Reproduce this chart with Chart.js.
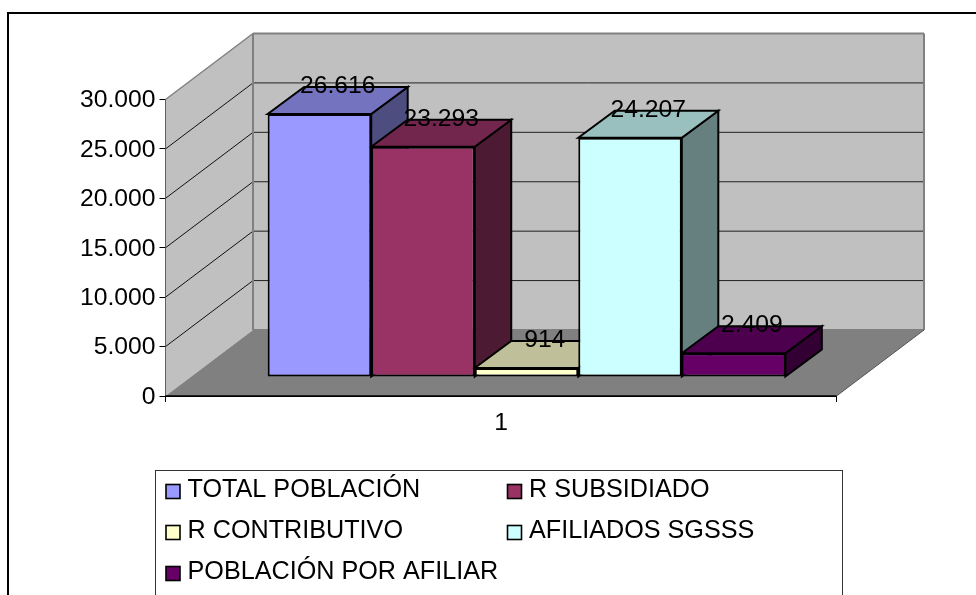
<!DOCTYPE html>
<html>
<head>
<meta charset="utf-8">
<style>html,body{margin:0;padding:0;background:#fff;overflow:hidden}canvas{display:block}</style>
<script src="https://cdn.jsdelivr.net/npm/chart.js@4"></script>
</head>
<body>
<canvas id="c" width="976" height="595"></canvas>
<script>
const categories = ['1'];
const seriesNames = ['TOTAL POBLACIÓN', 'R SUBSIDIADO', 'R CONTRIBUTIVO', 'AFILIADOS SGSSS', 'POBLACIÓN POR AFILIAR'];
const seriesValues = [26616, 23293, 914, 24207, 2409];
const frontColors = ['#9999FF', '#993366', '#FFFFCC', '#CCFFFF', '#660066'];
const topColors = ['#7373BF', '#73264D', '#BFBF99', '#99BFBF', '#4D004D'];
const sideColors = ['#4D4D80', '#4D1A33', '#808066', '#668080', '#330033'];
const yMax = 30000, yStep = 5000;

const FAMILY = '"Liberation Sans", Arial, sans-serif';
const FONT = '24.7px ' + FAMILY;
const LEG_FONT = '25.2px ' + FAMILY;
const WALL = { dx: 87.5, dy: -66 };   // back wall offset from the front plane
const BAR = { dx: 25.5, dy: -19 };    // bar front offset from the front plane
const DEPTH = { dx: 36.5, dy: -27 };  // bar depth

const fmt = v => String(v).replace(/\B(?=(\d{3})+(?!\d))/g, '.');

function poly(ctx, pts, fill, stroke, lw) {
  ctx.beginPath();
  pts.forEach((p, i) => i ? ctx.lineTo(p[0], p[1]) : ctx.moveTo(p[0], p[1]));
  ctx.closePath();
  if (fill) { ctx.fillStyle = fill; ctx.fill(); }
  if (stroke) { ctx.strokeStyle = stroke; ctx.lineWidth = lw; ctx.lineJoin = 'miter'; ctx.stroke(); }
}
function line(ctx, x1, y1, x2, y2, color, lw) {
  ctx.beginPath(); ctx.moveTo(x1, y1); ctx.lineTo(x2, y2);
  ctx.strokeStyle = color; ctx.lineWidth = lw; ctx.stroke();
}

const scene3d = {
  id: 'scene3d',
  beforeDatasetsDraw(chart) {
    const { ctx, chartArea: a, scales: { y } } = chart;
    const L = a.left, R = a.right, B = y.getPixelForValue(0), T = y.getPixelForValue(yMax);
    const dx = WALL.dx, dy = WALL.dy;
    ctx.save();
    // frame of the chart object
    ctx.beginPath(); ctx.moveTo(8, 600); ctx.lineTo(8, 13); ctx.lineTo(980, 13);
    ctx.strokeStyle = '#000'; ctx.lineWidth = 2; ctx.stroke();
    // left wall, back wall, floor
    poly(ctx, [[L, T], [L + dx, T + dy], [L + dx, B + dy], [L, B]], '#C0C0C0');
    poly(ctx, [[L + dx, T + dy], [R + dx, T + dy], [R + dx, B + dy], [L + dx, B + dy]], '#C0C0C0');
    poly(ctx, [[L, B], [R, B], [R + dx, B + dy], [L + dx, B + dy]], '#808080');
    // gridlines
    for (let v = yStep; v < yMax; v += yStep) {
      const p = y.getPixelForValue(v);
      line(ctx, L, p, L + dx, p + dy, '#111', 1);
      line(ctx, L + dx, p + dy, R + dx, p + dy, '#222', 1);
    }
    line(ctx, L + dx, T + dy, R + dx, T + dy, '#808080', 2);
    line(ctx, L + dx, T + dy, L + dx, B + dy, '#808080', 2);
    line(ctx, R + dx, T + dy, R + dx, B + dy, '#808080', 2);
    line(ctx, L + dx, B + dy, R + dx, B + dy, '#808080', 2);
    line(ctx, L, T, L + dx, T + dy, '#808080', 1.5);
    line(ctx, R, B, R + dx, B + dy, '#555', 1);
    line(ctx, L, B, R, B, '#000', 1.5);
    // bar side and top faces, left to right
    ctx.translate(BAR.dx, BAR.dy);
    chart.data.datasets.forEach((ds, i) => {
      const el = chart.getDatasetMeta(i).data[0];
      const x0 = el.x - el.width / 2, x1 = el.x + el.width / 2, top = el.y, base = el.base;
      const ex = DEPTH.dx, ey = DEPTH.dy;
      poly(ctx, [[x1, top], [x1 + ex, top + ey], [x1 + ex, base + ey], [x1, base]], sideColors[i], '#000', 2);
      poly(ctx, [[x0, top], [x0 + ex, top + ey], [x1 + ex, top + ey], [x1, top]], topColors[i], '#000', 2);
    });
  },
  afterDatasetsDraw(chart) {
    const { ctx } = chart;
    ctx.fillStyle = '#000';
    ctx.font = FONT; ctx.textAlign = 'center'; ctx.textBaseline = 'middle';
    chart.data.datasets.forEach((ds, i) => {
      const el = chart.getDatasetMeta(i).data[0];
      ctx.fillText(fmt(ds.data[0]), el.x + DEPTH.dx / 2, el.y + DEPTH.dy - 0.5);
    });
    ctx.restore();
    // legend box
    ctx.save();
    ctx.fillStyle = '#fff'; ctx.strokeStyle = '#333'; ctx.lineWidth = 1;
    ctx.fillRect(155.5, 470.5, 687, 130); ctx.strokeRect(155.5, 470.5, 687, 130);
    ctx.font = LEG_FONT; ctx.textAlign = 'left'; ctx.textBaseline = 'middle';
    chart.data.datasets.forEach((ds, i) => {
      const col = i % 2, row = Math.floor(i / 2);
      const sx = col ? 507.5 : 166, cy = 489 + row * 41;
      ctx.fillStyle = frontColors[i];
      ctx.fillRect(sx, cy - 4.5, 14, 14);
      ctx.strokeStyle = '#000'; ctx.lineWidth = 1.6;
      ctx.strokeRect(sx, cy - 4.5, 14, 14);
      ctx.fillStyle = '#000';
      ctx.fillText(ds.label, sx + 21.5, cy + 1);
    });
    ctx.restore();
  }
};

new Chart(document.getElementById('c').getContext('2d'), {
  type: 'bar',
  plugins: [scene3d],
  data: {
    labels: categories,
    datasets: seriesNames.map((n, i) => ({
      label: n,
      data: [seriesValues[i]],
      backgroundColor: frontColors[i],
      borderColor: '#000',
      borderWidth: 2,
      borderSkipped: false,
      clip: false
    }))
  },
  options: {
    responsive: false,
    animation: false,
    events: [],
    categoryPercentage: 0.7715,
    barPercentage: 1,
    layout: { padding: { left: 0, top: 99.5, right: 139.5, bottom: 0 } },
    plugins: { legend: { display: false }, tooltip: { enabled: false }, title: { display: false } },
    scales: {
      x: {
        offset: true,
        afterFit: s => { s.height = 199; },
        border: { color: '#000', width: 1 },
        grid: { color: '#000', tickLength: 6, drawOnChartArea: false, offset: true },
        ticks: { color: '#000', font: { family: FAMILY, size: 24.7 }, padding: 6 }
      },
      y: {
        min: 0, max: yMax,
        afterFit: s => { s.width = 165.5; },
        border: { color: '#000', width: 1 },
        grid: { color: '#000', tickLength: 6, drawOnChartArea: false },
        ticks: {
          stepSize: yStep, color: '#000', padding: 4, labelOffset: 1,
          font: { family: FAMILY, size: 24.7 },
          callback: v => fmt(v)
        }
      }
    }
  }
});
</script>
</body>
</html>
